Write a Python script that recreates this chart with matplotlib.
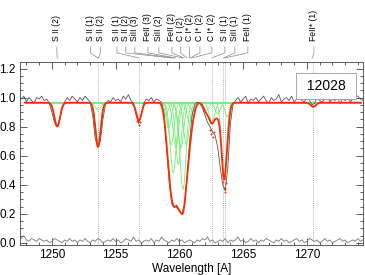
import numpy as np
import matplotlib
matplotlib.use('Agg')
import matplotlib.pyplot as plt
import matplotlib.transforms as mtransforms
from matplotlib.ticker import MultipleLocator

plt.rcParams['font.family'] = ['Liberation Sans', 'DejaVu Sans']

# observed spectrum, 0.2 A sampling
wave = np.arange(1247.6, 1274.45, 0.2)
flux = [0.99, 1.01, 0.97, 1.00, 0.98, 0.96, 1.00, 0.99, 1.01, 0.98, 0.99, 0.96,
        0.90, 0.83, 0.80, 0.84, 0.92, 0.97,
        1.00, 0.98, 1.01, 0.99, 0.97, 1.00, 0.98, 1.01, 0.99, 0.97,
        0.88, 0.72, 0.66, 0.70, 0.85, 0.95,
        0.98, 0.97, 1.00, 0.98, 0.99, 0.97, 1.01, 0.99, 1.02, 0.98,
        0.96, 0.88, 0.82, 0.88, 0.96,
        0.99, 0.98, 1.00, 0.97, 0.99, 0.98, 0.97,
        0.88, 0.65, 0.42, 0.27, 0.24, 0.26, 0.22, 0.20, 0.26, 0.45, 0.70, 0.88, 0.95, 0.97,
        0.96, 0.93, 0.88, 0.83, 0.80, 0.76, 0.74, 0.66, 0.52, 0.40, 0.36, 0.52, 0.82, 0.95,
        0.98, 1.00, 0.97, 0.99, 1.01, 0.96, 0.99, 0.98, 1.00, 0.97, 0.99, 1.01, 0.98, 0.96, 1.00,
        0.98, 0.99, 1.02, 0.97, 0.99, 1.00, 0.98, 1.01, 0.97, 0.99, 1.02, 0.98, 0.97, 1.00, 0.98,
        0.95, 0.96,
        1.00, 0.98, 0.97, 0.99, 1.01, 0.97, 0.99, 0.98, 1.00, 0.96, 0.99, 0.98, 1.00, 0.97,
        0.99, 1.01, 1.01, 0.99, 0.98]
error = [0.03, 0.05, 0.02, 0.01, 0.03, 0.02, 0.01, 0.03, 0.02, 0.01, 0.02, 0.00, 0.01, 0.03, 0.02,
         0.01, 0.00, 0.02, 0.01, 0.03, 0.01, 0.02, 0.00, 0.02, 0.01, 0.03, 0.01, 0.00, 0.02, 0.01,
         0.03, 0.02, 0.00, 0.01, 0.02, 0.01, 0.03, 0.01, 0.02, 0.00, 0.01, 0.03, 0.02, 0.01, 0.04,
         0.01, 0.02, 0.00, 0.01, 0.02, 0.01, 0.03, 0.00, 0.02, 0.01, 0.04, 0.02, 0.01, 0.00, 0.02,
         0.01, 0.03, 0.01, 0.02, 0.00, 0.01, 0.02, 0.01, 0.00, 0.02, 0.01, 0.03, 0.02, 0.04, 0.01,
         0.02, 0.00, 0.01, 0.02, 0.01, 0.03, 0.00, 0.02, 0.01, 0.02, 0.04, 0.01, 0.02, 0.00, 0.01,
         0.03, 0.01, 0.02, 0.00, 0.02, 0.01, 0.03, 0.02, 0.01, 0.00, 0.02, 0.01, 0.03, 0.01, 0.02,
         0.00, 0.01, 0.02, 0.03, 0.01, 0.02, 0.00, 0.01, 0.03, 0.02, 0.01, 0.02, 0.00, 0.01, 0.03,
         0.01, 0.02, 0.00, 0.01, 0.02, 0.03, 0.01, 0.02, 0.00, 0.01, 0.02, 0.01, 0.03, 0.01, 0.02]

# fitted absorption components: centre [A], depth, width [A]
comp_center = [1250.42, 1253.62, 1253.62, 1256.82,
               1258.95, 1259.15, 1259.35, 1259.52, 1259.72, 1259.92, 1260.12, 1260.28,
               1260.55, 1260.8, 1261.05,
               1262.1, 1262.55, 1263.0, 1263.5, 1263.75, 1270.5]
comp_depth = [0.17, 0.05, 0.28, 0.13,
              0.08, 0.18, 0.30, 0.50, 0.32, 0.44, 0.32, 0.62,
              0.30, 0.14, 0.06,
              0.06, 0.14, 0.08, 0.53, 0.10, 0.03]
comp_width = [0.22, 0.22, 0.20, 0.20,
              0.20, 0.20, 0.22, 0.24, 0.22, 0.22, 0.22, 0.24,
              0.22, 0.20, 0.20,
              0.20, 0.22, 0.20, 0.20, 0.18, 0.20]
continuum = 0.965

# data points falling below the fit
dot_wave = [1256.7, 1256.8, 1256.9, 1262.4, 1262.5, 1262.6, 1262.7,
            1263.45, 1263.5, 1263.55, 1263.6, 1263.65]
dot_flux = [0.84, 0.81, 0.83, 0.78, 0.75, 0.73, 0.76, 0.42, 0.38, 0.35, 0.37, 0.41]

# line identifications
vlines = [1253.6, 1256.82, 1262.54, 1263.44, 1263.6, 1270.5]
ion_labels = ['S II (2)', 'S II (1)', 'S II (2)', 'S II (1)', 'S II (2)', 'SiII (3)',
              'FeII (3)', 'SiII (2)', 'FeII (2)', 'C I (2)', 'C I* (2)', 'C I* (2)',
              'C I* (2)', 'S II (1)', 'SiII (1)', 'FeII (1)', 'FeII* (1)']
ion_wave = [1250.42, 1253.60, 1253.65, 1256.83, 1259.36, 1259.6, 1259.7, 1260.26,
            1260.37, 1260.58, 1260.77, 1260.83, 1260.96, 1262.54, 1263.44, 1263.55, 1270.44]
label_pos = [1250.39, 1253.02, 1253.80, 1255.10, 1255.80, 1256.51, 1257.53, 1258.39,
             1259.41, 1260.10, 1260.80, 1261.61, 1262.55, 1263.57, 1264.35, 1265.37, 1270.55]

fig = plt.figure(figsize=(3.65, 2.75), dpi=100)
ax = fig.add_axes([20 / 365, 1 - 245 / 275, 343 / 365, 183 / 275])

mw = np.arange(1247.9, 1274.25, 0.01)
total = np.ones_like(mw)
for c, d, w in zip(comp_center, comp_depth, comp_width):
    prof = 1 - d * np.exp(-0.5 * ((mw - c) / w) ** 2)
    total *= prof
    ax.plot(mw, continuum * prof, color='#77ee77', lw=0.6, zorder=2)

for v in vlines:
    ax.axvline(v, color='#999999', ls=(0, (1, 1.5)), lw=0.6, zorder=1)

ax.plot(wave, flux, color='#555555', lw=0.6, zorder=3)
ax.plot(wave, error, color='#777777', lw=0.6, zorder=3)
ax.plot(mw, continuum * total, color='#ff2a00', lw=1.3, zorder=4)
ax.scatter(dot_wave, dot_flux, s=2, color='#ff2a00', zorder=5, linewidths=0)

ax.set_xlim(1247.5, 1274.4)
ax.set_ylim(-0.015, 1.245)
ax.xaxis.set_major_locator(MultipleLocator(5))
ax.xaxis.set_minor_locator(MultipleLocator(1))
ax.yaxis.set_major_locator(MultipleLocator(0.2))
ax.yaxis.set_minor_locator(MultipleLocator(0.05))
ax.yaxis.set_major_formatter(plt.FormatStrFormatter('%.1f'))
ax.tick_params(which='both', direction='in', top=True, right=True, labelsize=8.5,
               width=0.6, color='#444444', pad=3)
ax.tick_params(which='major', length=5)
ax.tick_params(which='minor', length=2.5)
for s in ax.spines.values():
    s.set_linewidth(0.6)
    s.set_color('#444444')
ax.set_xlabel('Wavelength [A]', fontsize=8.5, labelpad=1)

trans = mtransforms.blended_transform_factory(ax.transData, ax.transAxes)
for lab, lw_, lp in zip(ion_labels, ion_wave, label_pos):
    ax.plot([lp, lp, lw_], [1.082, 1.05, 1.022], color='#888888', lw=0.5,
            transform=trans, clip_on=False)
    ax.text(lp, 1.115, lab, rotation=90, ha='center', va='bottom', fontsize=6.2,
            linespacing=1.0, transform=trans)

ax.text(1271.5, 1.08, ' 12028 ', fontsize=10, ha='center', va='center',
        bbox=dict(boxstyle='square,pad=0.45', fc='white', ec='#999999', lw=0.6), zorder=6)

fig.savefig('out.png', dpi=100)
